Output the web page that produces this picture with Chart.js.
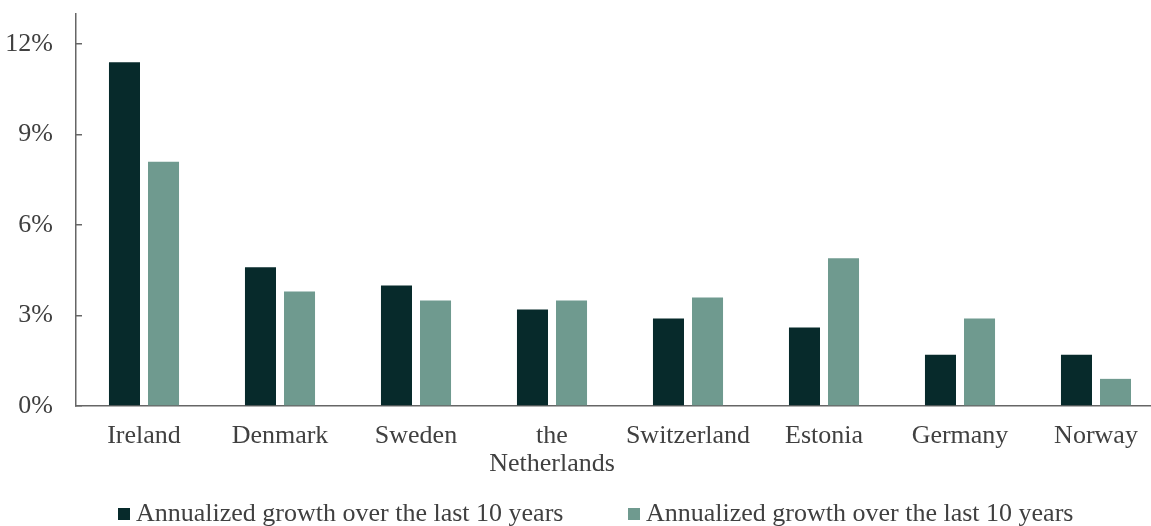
<!DOCTYPE html>
<html>
<head>
<meta charset="utf-8">
<script src="https://cdn.jsdelivr.net/npm/chart.js@4"></script>
<style>
    html, body { margin: 0; padding: 0; background: #fff; overflow: hidden; }
    #wrap { width: 1193px; height: 526px; position: relative; }
    #legend {
        position: absolute; left: 118px; top: 498px; white-space: nowrap;
        font-family: 'Liberation Serif', 'Times New Roman', serif;
        font-size: 26px; line-height: 30px; color: #404040;
    }
    #legend .item { position: absolute; top: 0; }
    #legend .box { position: absolute; top: 10px; left: 0; width: 12px; height: 12px; }
    #legend .txt { position: absolute; top: 0; left: 18px; }
</style>
</head>
<body>
<div id="wrap">
    <canvas id="growth-chart"></canvas>
    <div id="legend"></div>
</div>
<script>
// Chart data
const countries = ['Ireland', 'Denmark', 'Sweden', ['the', 'Netherlands'], 'Switzerland', 'Estonia', 'Germany', 'Norway'];
const seriesLabels = ['Annualized growth over the last 10 years', 'Annualized growth over the last 10 years'];
const growthDark = [11.4, 4.6, 4.0, 3.2, 2.9, 2.6, 1.7, 1.7];
const growthLight = [8.1, 3.8, 3.5, 3.5, 3.6, 4.9, 2.9, 0.9];
const yTicks = [0, 3, 6, 9, 12];

const seriesColors = ['#072a2b', '#6f9a8f'];
const textColor = '#404040';
const axisColor = '#666666';
const serif = "'Liberation Serif', 'Times New Roman', serif";

document.addEventListener('DOMContentLoaded', function() {
    const ctx = document.getElementById('growth-chart').getContext('2d');

    const chart = new Chart(ctx, {
        type: 'bar',
        data: {
            labels: countries,
            datasets: [{
                label: seriesLabels[0],
                data: growthDark,
                backgroundColor: seriesColors[0],
                borderWidth: 0
            }, {
                label: seriesLabels[1],
                data: growthLight,
                backgroundColor: seriesColors[1],
                borderWidth: 0
            }]
        },
        options: {
            responsive: true,
            maintainAspectRatio: false,
            animation: false,
            layout: {
                padding: { top: 14, right: 29, bottom: 0, left: 0 }
            },
            datasets: {
                bar: {
                    categoryPercentage: 0.574,
                    barPercentage: 0.795
                }
            },
            plugins: {
                tooltip: { enabled: false },
                legend: { display: false }
            },
            scales: {
                x: {
                    grid: { display: false },
                    border: { display: true, color: axisColor, width: 1.5 },
                    ticks: {
                        color: textColor,
                        font: { family: serif, size: 26, lineHeight: 1.05 },
                        padding: 9,
                        maxRotation: 0,
                        autoSkip: false
                    },
                    afterFit: function(scale) {
                        scale.height = 120;
                    }
                },
                y: {
                    min: 0,
                    max: 13,
                    afterBuildTicks: function(scale) {
                        scale.ticks = yTicks.map(v => ({ value: v }));
                    },
                    afterFit: function(scale) {
                        scale.width = 76;
                        scale.paddingTop = 0;
                        scale.paddingBottom = 0;
                    },
                    grid: {
                        display: true,
                        drawOnChartArea: false,
                        drawTicks: true,
                        tickLength: -6,
                        color: axisColor,
                        lineWidth: 1.5
                    },
                    border: { display: true, color: axisColor, width: 1.5 },
                    ticks: {
                        color: textColor,
                        font: { family: serif, size: 26 },
                        padding: 29,
                        callback: function(value) {
                            return value + '%';
                        }
                    }
                }
            }
        }
    });

    // Legend built from the chart's datasets
    const legend = document.getElementById('legend');
    const itemX = [0, 510];
    chart.data.datasets.forEach(function(ds, i) {
        const item = document.createElement('div');
        item.className = 'item';
        item.style.left = itemX[i] + 'px';
        item.innerHTML = '<span class="box" style="background:' + ds.backgroundColor + '"></span>' +
            '<span class="txt">' + ds.label + '</span>';
        legend.appendChild(item);
    });
});
</script>
</body>
</html>
